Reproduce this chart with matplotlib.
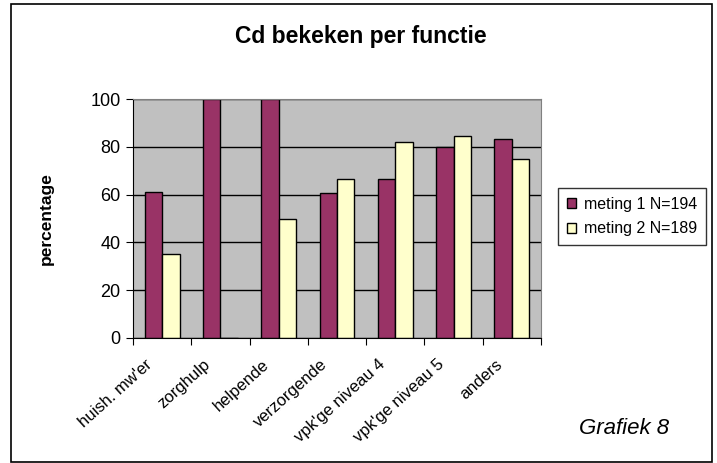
import matplotlib.pyplot as plt
import matplotlib.transforms as mtransforms
import numpy as np

plt.rcParams['font.family'] = ['Liberation Sans', 'DejaVu Sans']

functies = ["huish. mw'er", 'zorghulp', 'helpende', 'verzorgende',
            "vpk'ge niveau 4", "vpk'ge niveau 5", 'anders']
meting1 = [61, 100, 100, 60.5, 66.5, 80, 83.3]
meting2 = [35, 0, 50, 66.5, 82, 84.7, 75]
labels = ['meting 1 N=194', 'meting 2 N=189']

fig = plt.figure(figsize=(7.17, 4.63), dpi=100)
ax = fig.add_axes([133 / 717, (463 - 338) / 463, 408 / 717, 239 / 463])

# outer frame like the excel chart area
fig.patches.append(plt.Rectangle((11 / 717, 1 / 463), 701 / 717, 458 / 463,
                                 transform=fig.transFigure, fill=False,
                                 edgecolor='black', lw=1.2))

x = np.arange(len(functies))
w = 0.3
ax.set_facecolor('#C0C0C0')
ax.set_axisbelow(True)
ax.bar(x - w / 2, meting1, w, color='#993366', edgecolor='black', lw=1, label=labels[0])
ax.bar(x + w / 2, meting2, w, color='#FFFFCC', edgecolor='black', lw=1, label=labels[1])

ax.set_xlim(-0.5, len(functies) - 0.5)
ax.set_ylim(0, 100)
ax.set_yticks(np.arange(0, 101, 20))
ax.tick_params(axis='y', labelsize=13, length=5, direction='out', pad=4)
ax.yaxis.grid(True, color='black', lw=1)

# tick marks between categories, labels at centres
ax.set_xticks(np.arange(-0.5, len(functies)), minor=False)
ax.set_xticklabels([])
ax.tick_params(axis='x', length=5, direction='out')
ax.set_xticks(x, minor=True)
ax.set_xticklabels(functies, minor=True, rotation=42, ha='right',
                   rotation_mode='anchor', fontsize=12)
ax.tick_params(axis='x', which='minor', length=0, pad=10)
shift = mtransforms.ScaledTranslation(-17 / 100, -5 / 100, fig.dpi_scale_trans)
for t in ax.get_xticklabels(minor=True):
    t.set_transform(t.get_transform() + shift)

for s in ['top', 'right']:
    ax.spines[s].set_color('#808080')
for s in ['left', 'bottom']:
    ax.spines[s].set_color('black')

fig.text(361 / 717, 1 - 36 / 463, 'Cd bekeken per functie', ha='center', va='center',
         fontsize=16.5, fontweight='bold')
fig.text(46 / 717, 1 - 219 / 463, 'percentage', rotation=90, ha='center', va='center',
         fontsize=12.5, fontweight='bold')
fig.text(624 / 717, 1 - 428 / 463, 'Grafiek 8', ha='center', va='center',
         fontsize=16, style='italic')

leg = fig.legend(loc='upper left', bbox_to_anchor=(558 / 717, 1 - 188 / 463),
                 fontsize=11.5, frameon=True, fancybox=False, edgecolor='black',
                 handlelength=0.55, handleheight=0.55, handletextpad=0.5,
                 borderpad=0.55, labelspacing=0.6, borderaxespad=0)
leg.get_frame().set_linewidth(1)

fig.savefig('out.png', dpi=100)
